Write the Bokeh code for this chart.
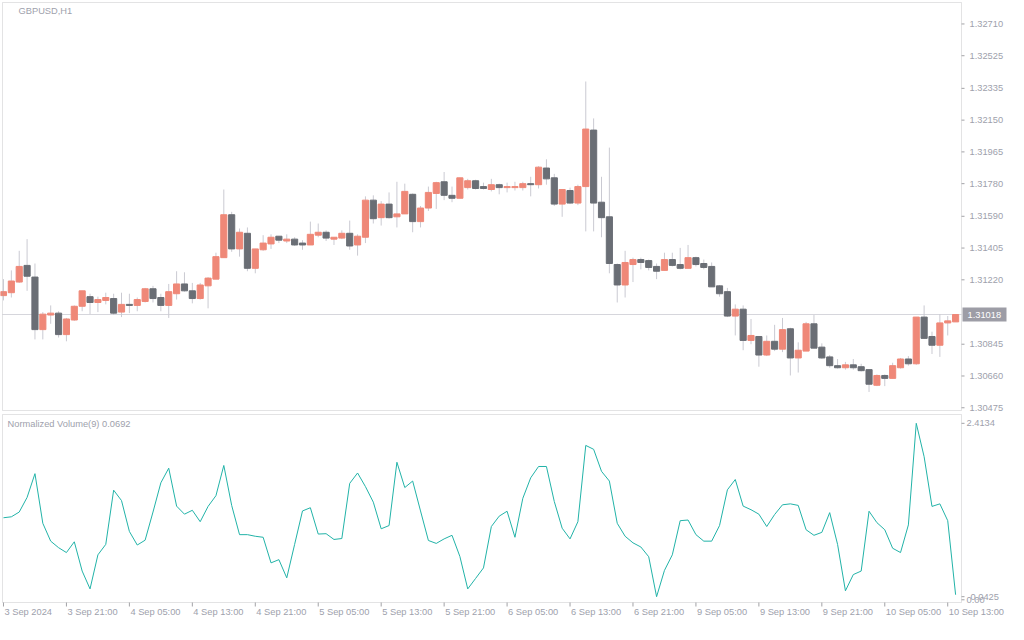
from bokeh.plotting import figure
from bokeh.layouts import column
from bokeh.models import Range1d, ColumnDataSource, BoxAnnotation
from bokeh.core.properties import value
from bokeh.embed import file_html
from bokeh.resources import INLINE

# ---------------- data (GBPUSD, H1) ----------------
open_ = [
    1.31128, 1.31145, 1.31207, 1.31304, 1.31236, 1.30930, 1.31015, 1.31026, 1.30901, 1.30986,
    1.31066, 1.31122, 1.31088, 1.31100, 1.31111, 1.31032, 1.31077, 1.31071, 1.31094, 1.31168,
    1.31117, 1.31071, 1.31139, 1.31196, 1.31156, 1.31111, 1.31185, 1.31224, 1.31349, 1.31599,
    1.31400, 1.31491, 1.31287, 1.31395, 1.31429, 1.31474, 1.31446, 1.31457, 1.31434, 1.31423,
    1.31480, 1.31497, 1.31457, 1.31463, 1.31491, 1.31423, 1.31468, 1.31684, 1.31582, 1.31661,
    1.31587, 1.31604, 1.31718, 1.31559, 1.31638, 1.31723, 1.31791, 1.31712, 1.31695, 1.31757,
    1.31797, 1.31763, 1.31746, 1.31774, 1.31757, 1.31757, 1.31757, 1.31780, 1.31774, 1.31871,
    1.31814, 1.31661, 1.31740, 1.31667, 1.31763, 1.32092, 1.31672, 1.31587, 1.31309, 1.31190,
    1.31309, 1.31338, 1.31332, 1.31298, 1.31275, 1.31338, 1.31309, 1.31287, 1.31349, 1.31315,
    1.31298, 1.31185, 1.31151, 1.31009, 1.31049, 1.30867, 1.30890, 1.30782, 1.30862, 1.30816,
    1.30935, 1.30765, 1.30805, 1.30964, 1.30828, 1.30771, 1.30720, 1.30708, 1.30725, 1.30714,
    1.30697, 1.30606, 1.30663, 1.30646, 1.30708, 1.30759, 1.30731, 1.31003, 1.30890, 1.30839,
    1.30969, 1.30975]

high = [
    1.31224, 1.31275, 1.31389, 1.31457, 1.31315, 1.31032, 1.31071, 1.31037, 1.30998, 1.31071,
    1.31156, 1.31139, 1.31122, 1.31145, 1.31139, 1.31145, 1.31139, 1.31117, 1.31173, 1.31185,
    1.31139, 1.31196, 1.31270, 1.31264, 1.31202, 1.31202, 1.31236, 1.31378, 1.31746, 1.31616,
    1.31519, 1.31525, 1.31400, 1.31480, 1.31485, 1.31474, 1.31485, 1.31468, 1.31451, 1.31559,
    1.31548, 1.31508, 1.31468, 1.31508, 1.31565, 1.31485, 1.31706, 1.31712, 1.31678, 1.31729,
    1.31791, 1.31780, 1.31723, 1.31650, 1.31763, 1.31791, 1.31848, 1.31763, 1.31814, 1.31808,
    1.31803, 1.31786, 1.31808, 1.31780, 1.31786, 1.31791, 1.31791, 1.31820, 1.31882, 1.31922,
    1.31837, 1.31746, 1.31757, 1.31774, 1.32375, 1.32160, 1.31820, 1.31990, 1.31315, 1.31389,
    1.31349, 1.31349, 1.31338, 1.31315, 1.31378, 1.31378, 1.31406, 1.31423, 1.31355, 1.31338,
    1.31321, 1.31190, 1.31173, 1.31077, 1.31071, 1.30992, 1.30890, 1.30896, 1.30958, 1.30998,
    1.30941, 1.30856, 1.30975, 1.31015, 1.30850, 1.30782, 1.30759, 1.30742, 1.30759, 1.30731,
    1.30697, 1.30669, 1.30669, 1.30737, 1.30765, 1.30776, 1.31003, 1.31071, 1.30918, 1.31020,
    1.31009, 1.31020]

low = [
    1.31100, 1.31117, 1.31202, 1.31156, 1.30873, 1.30873, 1.30964, 1.30884, 1.30862, 1.30981,
    1.31037, 1.31020, 1.31032, 1.31077, 1.31015, 1.31003, 1.31026, 1.31037, 1.31088, 1.31088,
    1.31037, 1.30998, 1.31105, 1.31151, 1.31083, 1.31105, 1.31054, 1.31224, 1.31349, 1.31383,
    1.31355, 1.31270, 1.31258, 1.31389, 1.31400, 1.31434, 1.31434, 1.31417, 1.31395, 1.31423,
    1.31468, 1.31446, 1.31423, 1.31457, 1.31395, 1.31361, 1.31434, 1.31548, 1.31536, 1.31576,
    1.31525, 1.31604, 1.31497, 1.31525, 1.31621, 1.31633, 1.31684, 1.31672, 1.31695, 1.31746,
    1.31746, 1.31746, 1.31735, 1.31718, 1.31729, 1.31740, 1.31740, 1.31706, 1.31752, 1.31774,
    1.31650, 1.31587, 1.31661, 1.31655, 1.31502, 1.31502, 1.31468, 1.31258, 1.31088, 1.31117,
    1.31207, 1.31281, 1.31275, 1.31224, 1.31275, 1.31298, 1.31281, 1.31287, 1.31298, 1.31281,
    1.31179, 1.31122, 1.31003, 1.30896, 1.30810, 1.30845, 1.30714, 1.30776, 1.30805, 1.30799,
    1.30663, 1.30680, 1.30805, 1.30822, 1.30759, 1.30708, 1.30703, 1.30697, 1.30697, 1.30686,
    1.30567, 1.30601, 1.30601, 1.30646, 1.30703, 1.30720, 1.30725, 1.30879, 1.30788, 1.30771,
    1.30896, 1.30975]

close = [
    1.31151, 1.31213, 1.31298, 1.31241, 1.30930, 1.31020, 1.31026, 1.30901, 1.30992, 1.31066,
    1.31156, 1.31088, 1.31105, 1.31117, 1.31026, 1.31077, 1.31071, 1.31105, 1.31168, 1.31111,
    1.31071, 1.31151, 1.31196, 1.31156, 1.31111, 1.31190, 1.31230, 1.31355, 1.31599, 1.31400,
    1.31497, 1.31287, 1.31400, 1.31434, 1.31468, 1.31451, 1.31457, 1.31423, 1.31423, 1.31485,
    1.31497, 1.31463, 1.31468, 1.31491, 1.31417, 1.31474, 1.31684, 1.31576, 1.31661, 1.31582,
    1.31604, 1.31735, 1.31559, 1.31638, 1.31729, 1.31786, 1.31712, 1.31695, 1.31814, 1.31797,
    1.31752, 1.31752, 1.31774, 1.31757, 1.31763, 1.31763, 1.31780, 1.31774, 1.31876, 1.31808,
    1.31661, 1.31746, 1.31667, 1.31763, 1.32098, 1.31667, 1.31582, 1.31315, 1.31190, 1.31321,
    1.31338, 1.31321, 1.31292, 1.31270, 1.31338, 1.31304, 1.31287, 1.31349, 1.31309, 1.31292,
    1.31179, 1.31139, 1.31009, 1.31049, 1.30867, 1.30896, 1.30782, 1.30862, 1.30816, 1.30930,
    1.30765, 1.30810, 1.30964, 1.30822, 1.30765, 1.30720, 1.30708, 1.30725, 1.30708, 1.30691,
    1.30612, 1.30663, 1.30646, 1.30720, 1.30759, 1.30731, 1.31003, 1.30879, 1.30839, 1.30969,
    1.30981, 1.31018]

norm_volume = [
    1.122, 1.135, 1.200, 1.400, 1.725, 1.046, 0.802, 0.713, 0.646, 0.793,
    0.393, 0.149, 0.615, 0.758, 1.499, 1.357, 0.935, 0.749, 0.815, 1.200,
    1.600, 1.800, 1.281, 1.171, 1.224, 1.068, 1.277, 1.424, 1.837, 1.291,
    0.891, 0.891, 0.869, 0.855, 0.505, 0.549, 0.300, 0.758, 1.215, 1.259,
    0.899, 0.904, 0.825, 0.838, 1.592, 1.734, 1.548, 1.335, 0.971, 1.015,
    1.881, 1.535, 1.624, 1.215, 0.811, 0.771, 0.833, 0.882, 0.593, 0.149,
    0.292, 0.436, 1.002, 1.144, 1.211, 0.855, 1.388, 1.668, 1.823, 1.823,
    1.344, 0.979, 0.833, 1.068, 2.111, 2.058, 1.757, 1.624, 1.046, 0.869,
    0.779, 0.722, 0.589, 0.0425, 0.402, 0.615, 1.082, 1.091, 0.891, 0.802,
    0.802, 1.015, 1.504, 1.645, 1.281, 1.232, 1.171, 1.002, 1.166, 1.299,
    1.312, 1.291, 0.958, 0.882, 0.922, 1.192, 0.758, 0.123, 0.345, 0.393,
    1.211, 1.055, 0.958, 0.705, 0.646, 1.024, 2.4134, 1.957, 1.277, 1.312,
    1.082, 0.0692]

price_ticks = [1.32710, 1.32525, 1.32335, 1.32150, 1.31965, 1.31780, 1.31590,
               1.31405, 1.31220, 1.30845, 1.30660, 1.30475]
last_price = 1.31018
volume_ticks = [2.4134, 0.0425, 0.0]
volume_tick_labels = ["2.4134", "0.0425", "0.00"]
time_tick_bars = [0, 8, 16, 24, 32, 40, 48, 56, 64, 72, 80, 88, 96, 104, 112, 120]
time_tick_labels = ["3 Sep 2024", "3 Sep 21:00", "4 Sep 05:00", "4 Sep 13:00", "4 Sep 21:00",
                    "5 Sep 05:00", "5 Sep 13:00", "5 Sep 21:00", "6 Sep 05:00", "6 Sep 13:00",
                    "6 Sep 21:00", "9 Sep 05:00", "9 Sep 13:00", "9 Sep 21:00", "10 Sep 05:00",
                    "10 Sep 13:00"]

# ---------------- styles / layout constants ----------------
UP = "#ef8878"
DOWN = "#6a6e75"
WICK = "#cacad2"
FRAME = "#a2a2a6"
TXT = "#9ea1ac"
BOXC = "#9d9da6"
FONT = "Liberation Sans"
FS = "9.3px"
VOLC = "#22b3a8"

W = 1008                 # figure width (px)
CHART_RIGHT_PX = 961     # screen x of the chart's right border
X_LEFT, X_RIGHT = -0.125, 121.75        # chart borders in bar units
K = (CHART_RIGHT_PX - 2) / (X_RIGHT - X_LEFT)   # px per bar
XR = Range1d(X_LEFT - 2 / K, X_RIGHT + (W - CHART_RIGHT_PX) / K)

MAIN_H = 412
TOP, BOT = 1.32835, 1.30459             # price at chart top / bottom border
PP = (TOP - BOT) / (MAIN_H - 4)         # price per px

VOL_H, VOL_AXIS = 212, 22
VTOP, VBOT = 2.534, -0.037
VP = (VTOP - VBOT) / (VOL_H - VOL_AXIS - 2)


def right_of_chart(px):
    return X_RIGHT + px / K


def text_style(color=TXT):
    return dict(text_color=color, text_font=value(FONT), text_font_size=value(FS))


xs = list(range(len(open_)))
src = ColumnDataSource(dict(
    x=xs, open=open_, high=high, low=low, close=close,
    top=[max(o, c) for o, c in zip(open_, close)],
    bottom=[min(o, c) for o, c in zip(open_, close)],
    color=[UP if c >= o else DOWN for o, c in zip(open_, close)]))

# ---------------- price panel ----------------
p = figure(width=W, height=MAIN_H, x_range=XR, y_range=Range1d(BOT - 2 * PP, TOP + 2 * PP),
           output_backend="svg", toolbar_location=None, x_axis_location=None,
           y_axis_location=None, min_border=0)
p.grid.visible = False
p.outline_line_color = None
p.background_fill_color = "white"
p.border_fill_color = "white"

p.segment(x0=[X_LEFT], x1=[X_RIGHT], y0=[last_price], y1=[last_price],
          line_color="#d6d6dc", line_width=1)
p.segment(x0="x", y0="low", x1="x", y1="high", line_color=WICK, line_width=1, source=src)
p.vbar(x="x", width=0.78, top="top", bottom="bottom", fill_color="color", line_color="color",
       line_width=1, source=src)
p.add_layout(BoxAnnotation(left=X_LEFT, right=X_RIGHT, top=TOP, bottom=BOT,
                           fill_color=None, line_color=FRAME, line_width=1))

# right price scale
n = len(price_ticks)
p.segment(x0=[X_RIGHT] * n, x1=[right_of_chart(3)] * n, y0=price_ticks, y1=price_ticks,
          line_color=FRAME, line_width=1)
p.text(x=[X_RIGHT] * n, y=price_ticks, text=[f"{t:.5f}" for t in price_ticks],
       x_offset=8, text_baseline="middle", text_align="left", **text_style())
p.rect(x=[right_of_chart(23)], y=[last_price], width=44, height=14,
       width_units="screen", height_units="screen", fill_color=BOXC, line_color=None)
p.text(x=[X_RIGHT], y=[last_price], text=[f"{last_price:.5f}"], x_offset=6,
       text_baseline="middle", text_align="left", **text_style("white"))

p.text(x=[X_LEFT + 16 / K], y=[TOP - 8 * PP], text=["GBPUSD,H1"], text_baseline="middle",
       text_align="left", **text_style())

# ---------------- volume panel ----------------
v = figure(width=W, height=VOL_H, x_range=XR,
           y_range=Range1d(VBOT - VOL_AXIS * VP, VTOP + 2 * VP),
           output_backend="svg", toolbar_location=None, x_axis_location=None,
           y_axis_location=None, min_border=0)
v.grid.visible = False
v.outline_line_color = None
v.background_fill_color = "white"
v.border_fill_color = "white"

v.line(xs, norm_volume, line_color=VOLC, line_width=1)
v.add_layout(BoxAnnotation(left=X_LEFT, right=X_RIGHT, top=VTOP, bottom=VBOT,
                           fill_color=None, line_color=FRAME, line_width=1))

m = len(volume_ticks)
v.segment(x0=[X_RIGHT] * m, x1=[right_of_chart(3)] * m, y0=volume_ticks, y1=volume_ticks,
          line_color=FRAME, line_width=1)
v.text(x=[X_RIGHT] * m, y=volume_ticks, text=volume_tick_labels, x_offset=[5, 9, 5],
       text_baseline="middle", text_align="left", **text_style())
v.text(x=[X_LEFT + 5 / K], y=[VTOP - 9 * VP], text=["Normalized Volume(9) 0.0692"],
       text_baseline="middle", text_align="left", **text_style())

# time scale (below the volume panel)
t = len(time_tick_bars)
v.segment(x0=time_tick_bars, x1=time_tick_bars, y0=[VBOT] * t, y1=[VBOT - 4 * VP] * t,
          line_color=FRAME, line_width=1)
v.text(x=time_tick_bars, y=[VBOT] * t, text=time_tick_labels, x_offset=1, y_offset=4,
       text_baseline="top", text_align="left", **text_style())

layout = column(p, v)
open("out.html", "w").write(file_html(layout, INLINE))
